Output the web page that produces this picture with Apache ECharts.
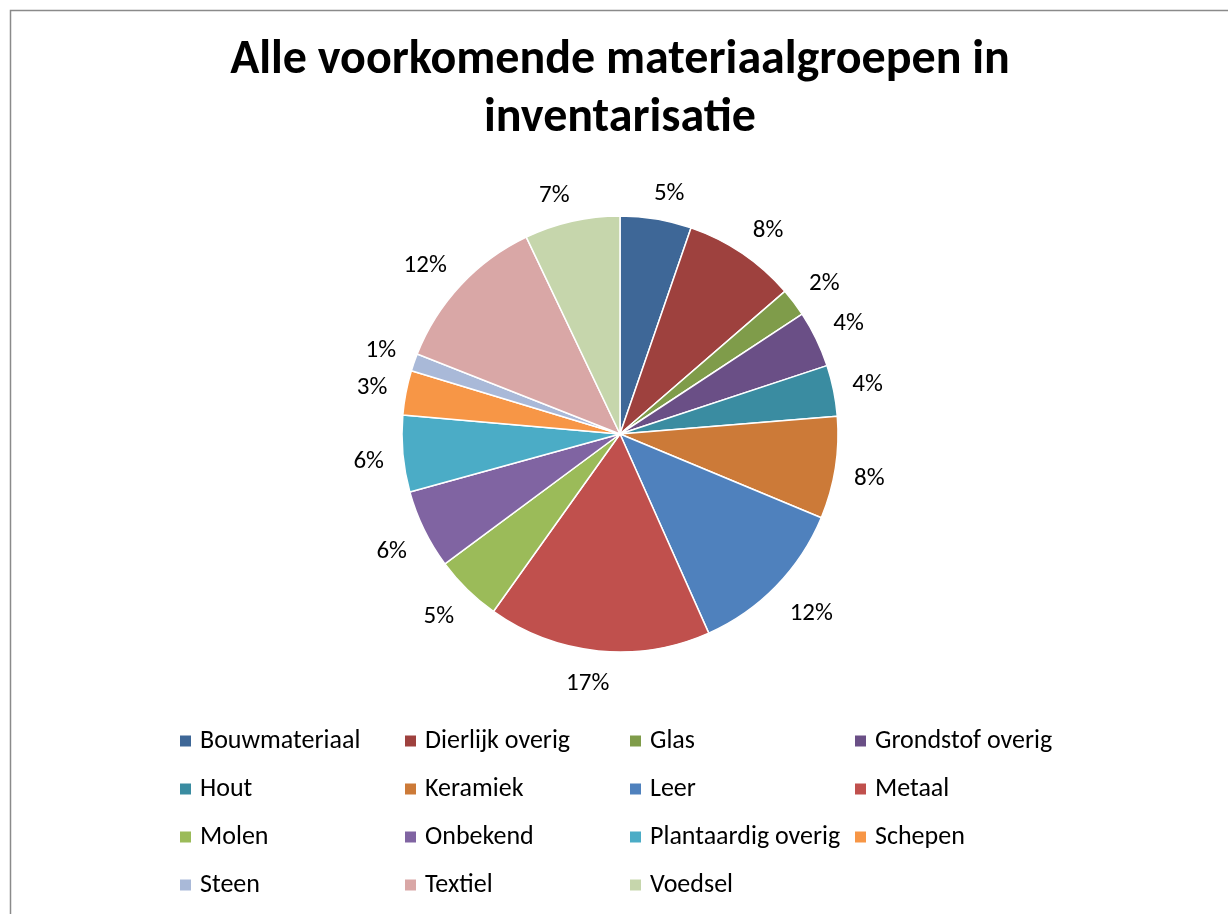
<!DOCTYPE html>
<html>
<head>
<meta charset="utf-8">
<script src="https://cdn.jsdelivr.net/npm/echarts@6/dist/echarts.min.js"></script>
<style>
  html, body { margin: 0; padding: 0; background: #fff; overflow: hidden; }
  #chart { width: 1240px; height: 914px; }
</style>
</head>
<body>
<div id="chart"></div>
<script>
const groepen = ['Bouwmateriaal', 'Dierlijk overig', 'Glas', 'Grondstof overig', 'Hout', 'Keramiek', 'Leer', 'Metaal',
  'Molen', 'Onbekend', 'Plantaardig overig', 'Schepen', 'Steen', 'Textiel', 'Voedsel'];
const aantallen = [53, 84, 21, 42, 38, 76, 121, 166, 50, 59, 57, 33, 13, 120, 71];
const kleuren = ['#3E6797', '#9E413E', '#7F9C4A', '#6A4F86', '#3A8CA1', '#CC7A38', '#4F81BD', '#C0504D',
  '#9BBB59', '#8064A2', '#4BACC6', '#F79646', '#A9B9D8', '#D9A7A6', '#C6D6AC'];
const titel = 'Alle voorkomende materiaalgroepen in\ninventarisatie';

const FONT = 'Carlito, Calibri, Lato, sans-serif';
const chart = echarts.init(document.getElementById('chart'));

chart.setOption({
  backgroundColor: '#fff',
  animation: false,
  color: kleuren,
  title: {
    text: titel,
    left: 'center',
    top: 32,
    padding: 0,
    textStyle: { fontFamily: FONT, fontSize: 48, fontWeight: 'bold', color: '#000', lineHeight: 58 }
  },
  legend: {
    data: groepen,
    left: 178,
    top: 717,
    width: 1000,
    padding: 0,
    itemGap: 0,
    itemWidth: 13,
    itemHeight: 13,
    icon: 'rect',
    textStyle: { fontFamily: FONT, fontSize: 26, color: '#000', width: 203, lineHeight: 48, padding: [0, 0, 0, 3] }
  },
  graphic: [{
    type: 'rect',
    shape: { x: 10.5, y: 10.5, width: 1400, height: 1000 },
    style: { fill: 'none', stroke: '#8a8a8a', lineWidth: 1.5 },
    silent: true
  }],
  series: [{
    type: 'pie',
    center: ['50%', 434],
    radius: 218,
    startAngle: 90,
    clockwise: true,
    percentPrecision: 0,
    data: groepen.map((n, i) => ({ name: n, value: aantallen[i] })),
    itemStyle: { borderColor: '#fff', borderWidth: 1.5 },
    emphasis: { disabled: true },
    label: {
      show: true,
      position: 'outside',
      formatter: '{d}%',
      fontFamily: FONT,
      fontSize: 25,
      lineHeight: 26,
      color: '#000'
    },
    labelLine: { show: true, length: 19, length2: 0, lineStyle: { opacity: 0 } },
    // labels zoals Excel: het dichtstbijzijnde hoekpunt van het tekstvak tegen het ankerpunt
    labelLayout: function (p) {
      const pts = p.labelLinePoints;
      if (!pts) return {};
      const dx = pts[1][0] - pts[0][0], dy = pts[1][1] - pts[0][1];
      const len = Math.hypot(dx, dy) || 1;
      const cl = v => Math.max(-1, Math.min(1, v));
      const w = p.labelRect.width, h = p.labelRect.height;
      return {
        x: pts[1][0] + cl(dx / len * 4) * w / 2,
        y: pts[1][1] + h * 0.135 + cl(dy / len * 2.5) * h * 0.4,
        align: 'center',
        verticalAlign: 'middle'
      };
    }
  }]
});
</script>
</body>
</html>
